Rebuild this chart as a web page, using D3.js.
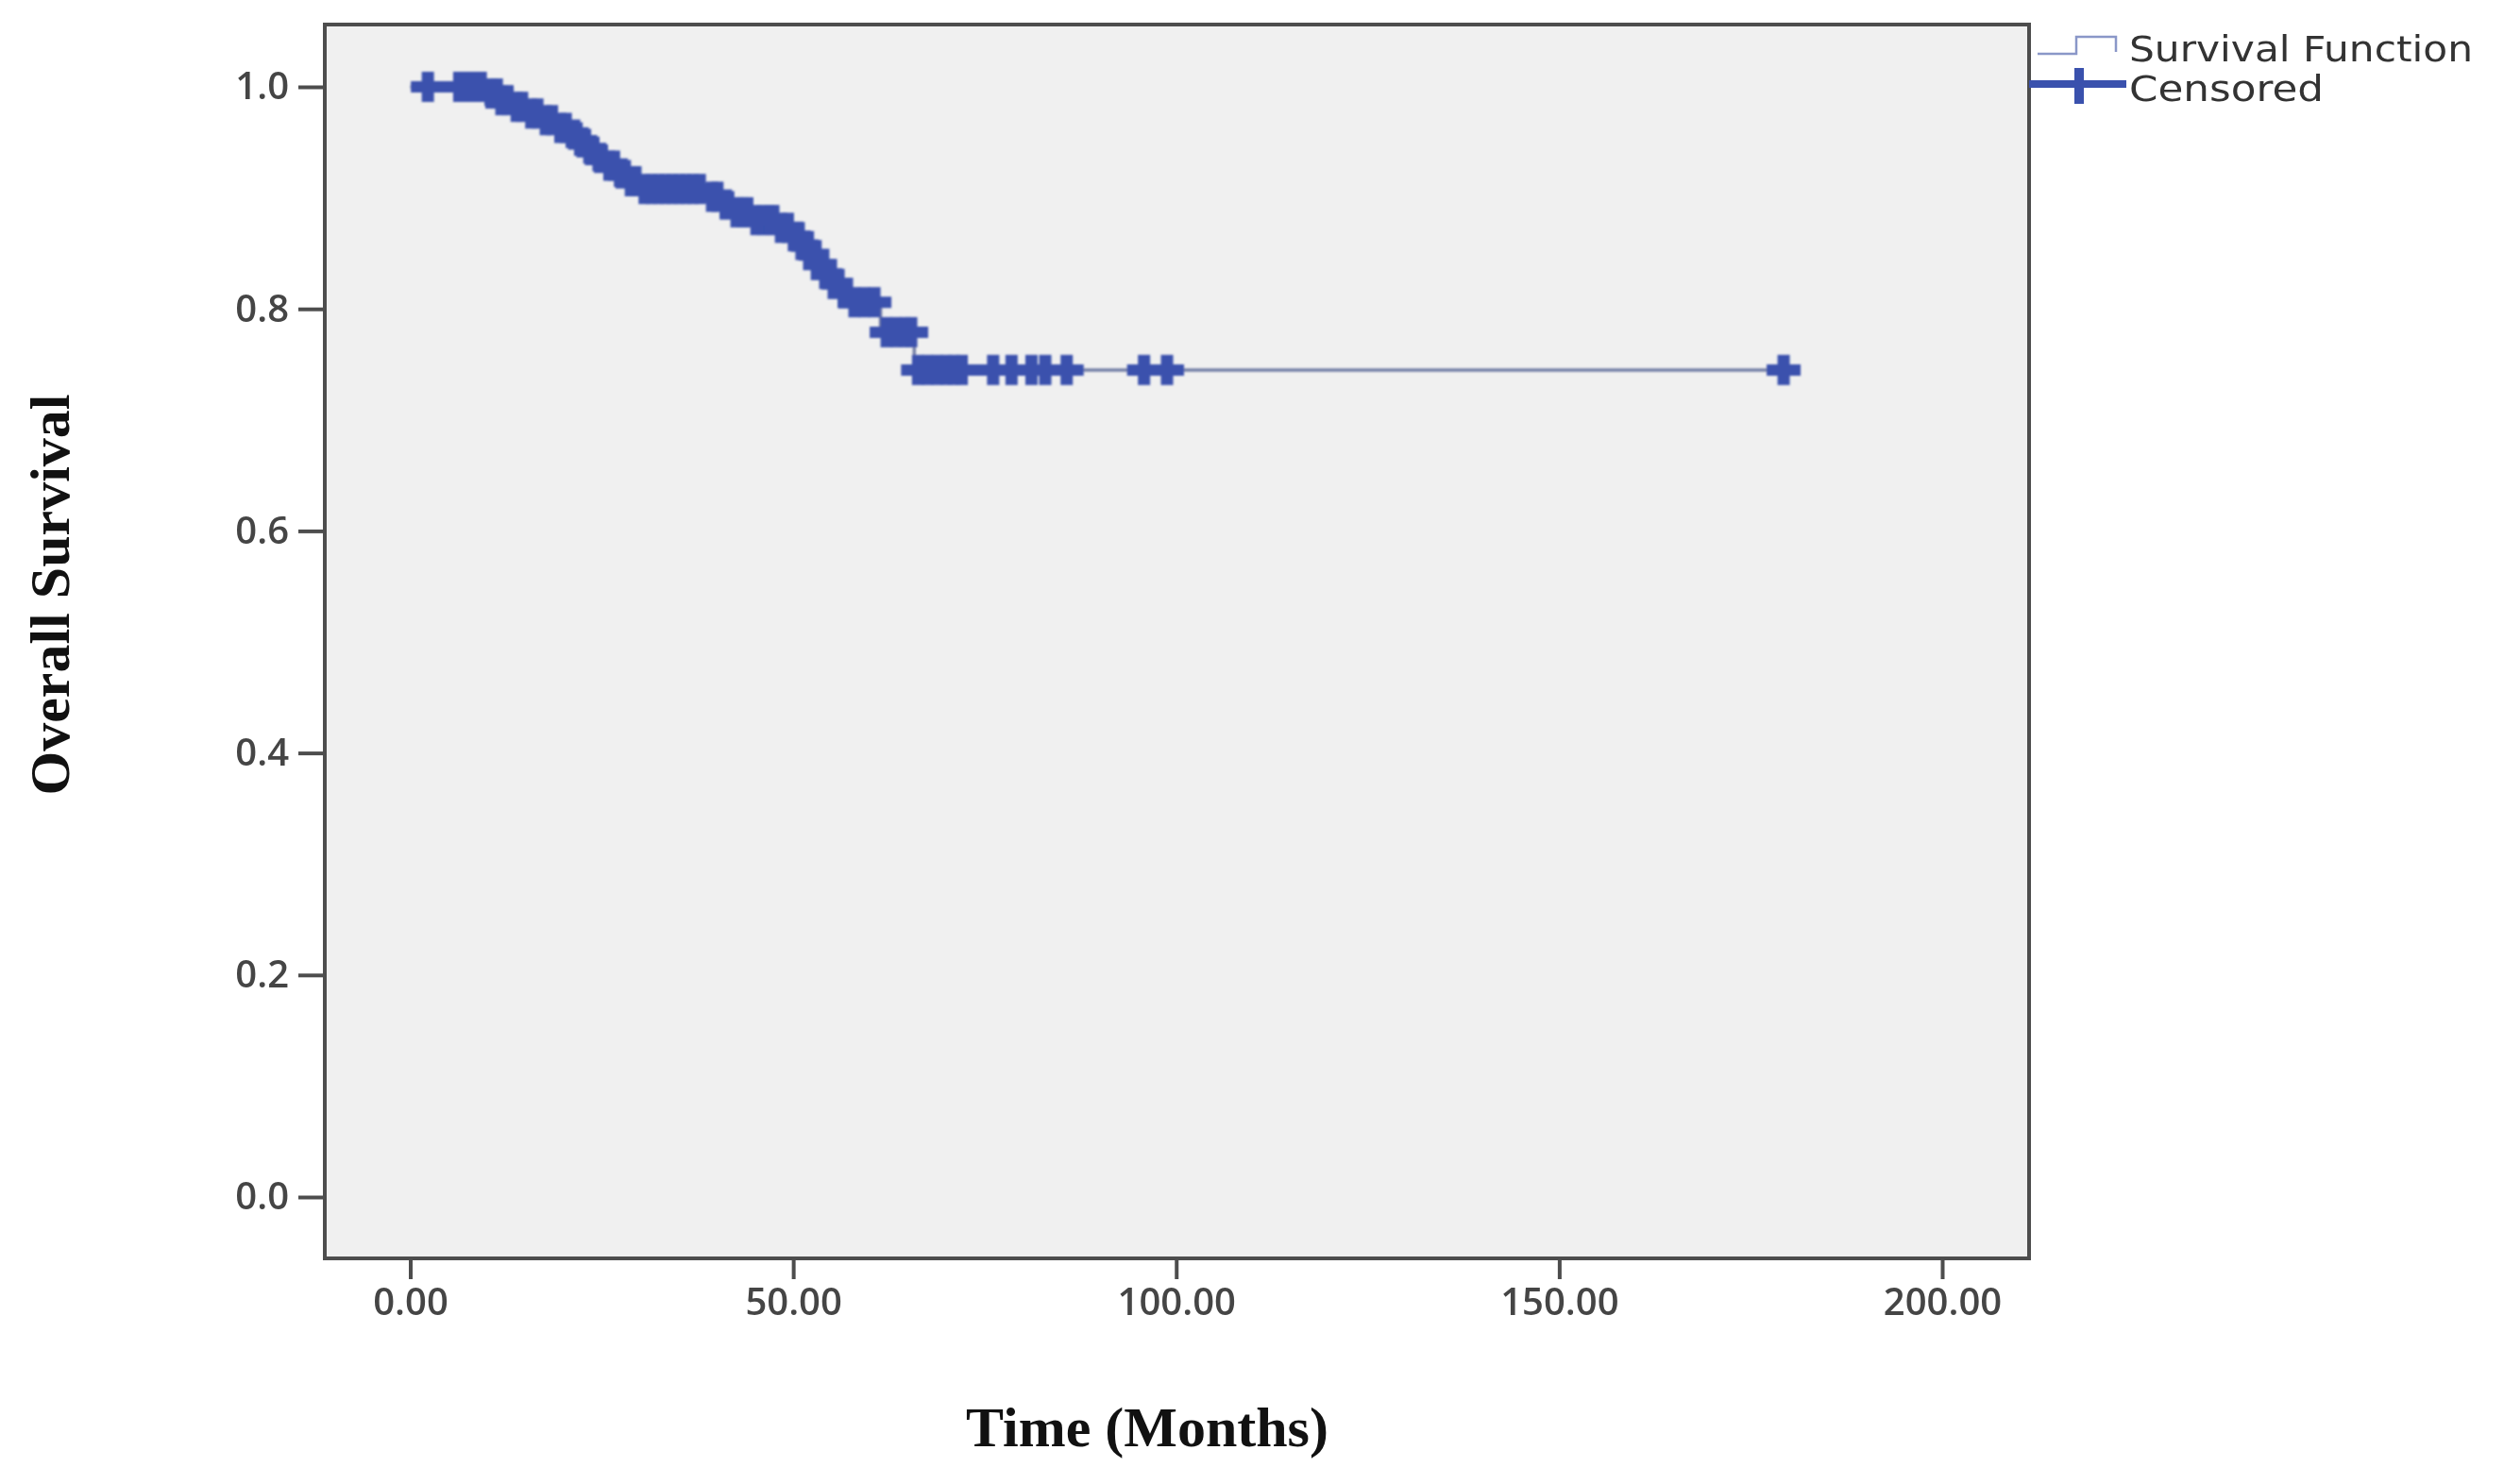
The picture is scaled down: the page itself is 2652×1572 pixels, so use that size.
<!DOCTYPE html>
<html>
<head>
<meta charset="utf-8">
<script src="https://cdn.jsdelivr.net/npm/d3@7/dist/d3.min.js"></script>
<style>
  html, body { margin: 0; padding: 0; background: #ffffff; }
  svg { display: block; }
</style>
</head>
<body>
<svg id="chart" width="2652" height="1572"></svg>
<script>
// ---- Data ----
const eventTimes = [10.0, 11.6, 13.4, 15.4, 17.4, 19.2, 20.8, 22.0, 23.2, 24.4, 25.6, 27.2, 28.5, 29.8,
                    38.8, 40.5, 42.0, 44.5, 47.8, 50.0, 51.0, 52.0, 53.0, 54.0, 55.0, 56.2, 57.2, 61.4, 65.8];
const eventSurv  = [0.994, 0.988, 0.982, 0.976, 0.970, 0.963, 0.957, 0.950, 0.943, 0.936, 0.929, 0.922, 0.915, 0.908,
                    0.901, 0.894, 0.887, 0.880, 0.873, 0.865, 0.857, 0.849, 0.840, 0.831, 0.823, 0.814, 0.806, 0.779, 0.745];
const censorTimes = [2.3, 6.4, 7.3, 8.3, 9.2,
  10.6, 11.3, 11.9, 12.7, 13.9, 14.6, 15.8, 16.6, 17.7, 18.5, 19.6, 20.3, 21.4, 22.5, 23.6, 24.8, 26.0, 26.6, 27.6,
  28.8, 29.4, 30.6, 31.5, 32.4, 33.3, 34.2, 35.1, 36.0, 36.9, 37.8, 39.4, 40.1, 41.2, 42.6, 43.4, 44.0, 45.2,
  46.0, 46.9, 47.4, 48.4, 49.3, 50.5, 51.5, 52.5, 53.5, 54.5, 55.6, 56.7, 58.0, 59.3, 60.6, 62.2, 63.4, 64.6, 65.4,
  66.3, 67.5, 68.8, 70.0, 71.0, 72.0, 76.1, 78.5, 81.1, 82.9, 85.7, 95.8, 98.8, 179.3];
const xTicks = [0, 50, 100, 150, 200];
const yTicks = [0, 0.2, 0.4, 0.6, 0.8, 1.0];
const legendLabels = ["Survival Function", "Censored"];
const xTitle = "Time (Months)";
const yTitle = "Overall Survival";

// ---- Layout ----
const frame = { left: 344, right: 2149, top: 26, bottom: 1333 };
const svg = d3.select("#chart");

const defs = svg.append("defs");
defs.append("filter").attr("id", "soft")
  .attr("x", "-5%").attr("y", "-5%").attr("width", "110%").attr("height", "110%")
  .append("feGaussianBlur").attr("stdDeviation", 1.2);

const x = d3.scaleLinear().domain([0, 200]).range([434.5, 2057]);
const y = d3.scaleLinear().domain([0, 1]).range([1268, 92]);

const markColor = "#3a51ad";
const lineColor = "#737ea6";
const axisColor = "#4d4d4d";
const labelColor = "#454545";

// plot background
svg.append("rect")
  .attr("x", frame.left).attr("y", frame.top)
  .attr("width", frame.right - frame.left).attr("height", frame.bottom - frame.top)
  .attr("fill", "#f0f0f0");

// survival step function
function survAt(t) {
  const i = d3.bisectRight(eventTimes, t);
  return i === 0 ? 1 : eventSurv[i - 1];
}
const lastTime = d3.max(censorTimes);
const stepPts = [[0, 1]].concat(eventTimes.map((t, i) => [t, eventSurv[i]]));
stepPts.push([lastTime, eventSurv[eventSurv.length - 1]]);

const plotG = svg.append("g").attr("filter", "url(#soft)");
plotG.append("path")
  .datum(stepPts)
  .attr("fill", "none")
  .attr("stroke", lineColor)
  .attr("stroke-width", 3.5)
  .attr("d", d3.line().x(d => x(d[0])).y(d => y(d[1])).curve(d3.curveStepAfter));

// censored marks (+)
const hx = 18, hy = 16;
const marks = plotG.selectAll("g.cens").data(censorTimes).join("g")
  .attr("class", "cens")
  .attr("transform", d => `translate(${x(d)},${y(survAt(d))})`);
marks.append("line").attr("x1", -hx).attr("x2", hx).attr("y1", 0).attr("y2", 0)
  .attr("stroke", markColor).attr("stroke-width", 12);
marks.append("line").attr("x1", 0).attr("x2", 0).attr("y1", -hy).attr("y2", hy)
  .attr("stroke", markColor).attr("stroke-width", 13);

// frame
svg.append("rect")
  .attr("x", frame.left).attr("y", frame.top)
  .attr("width", frame.right - frame.left).attr("height", frame.bottom - frame.top)
  .attr("fill", "none").attr("stroke", axisColor).attr("stroke-width", 4);

// axes
const yAxis = d3.axisLeft(y).tickValues(yTicks).tickFormat(d3.format(".1f")).tickSize(28).tickPadding(10);
const gy = svg.append("g").attr("transform", `translate(${frame.left},0)`).call(yAxis);
gy.select(".domain").remove();
gy.selectAll(".tick line").attr("stroke", axisColor).attr("stroke-width", 4);
gy.selectAll(".tick text")
  .attr("fill", labelColor)
  .style("font-family", "'Open Sans', sans-serif")
  .style("font-weight", "600")
  .style("font-size", "40px");

const xAxis = d3.axisBottom(x).tickValues(xTicks).tickFormat(d3.format(".2f")).tickSize(22).tickPadding(10);
const gx = svg.append("g").attr("transform", `translate(0,${frame.bottom})`).call(xAxis);
gx.select(".domain").remove();
gx.selectAll(".tick line").attr("stroke", axisColor).attr("stroke-width", 4);
gx.selectAll(".tick text")
  .attr("fill", labelColor)
  .style("font-family", "'Open Sans', sans-serif")
  .style("font-weight", "600")
  .style("font-size", "40px");

// axis titles
svg.append("text")
  .attr("x", 1215).attr("y", 1532)
  .attr("text-anchor", "middle")
  .style("font-family", "'Liberation Serif', 'Times New Roman', serif")
  .style("font-weight", "bold")
  .style("font-size", "60px")
  .attr("fill", "#111")
  .text(xTitle);

svg.append("text")
  .attr("transform", "translate(73,630) rotate(-90)")
  .attr("text-anchor", "middle")
  .style("font-family", "'Liberation Serif', 'Times New Roman', serif")
  .style("font-weight", "bold")
  .style("font-size", "60px")
  .attr("fill", "#111")
  .text(yTitle);

// legend
const lg = svg.append("g");
lg.append("path")
  .attr("d", "M2158,57 H2199 V39 H2241 V55")
  .attr("fill", "none").attr("stroke", "#8a97c8").attr("stroke-width", 2.5);
lg.append("line").attr("x1", 2149).attr("x2", 2252).attr("y1", 89).attr("y2", 89)
  .attr("stroke", markColor).attr("stroke-width", 8);
lg.append("line").attr("x1", 2202).attr("x2", 2202).attr("y1", 72).attr("y2", 110)
  .attr("stroke", markColor).attr("stroke-width", 10);

const legendY = [65, 107];
const legendW = [364, 206];
lg.selectAll("text.leg").data(legendLabels).join("text")
  .attr("class", "leg")
  .attr("x", 2255)
  .attr("y", (d, i) => legendY[i])
  .attr("textLength", (d, i) => legendW[i])
  .attr("lengthAdjust", "spacingAndGlyphs")
  .style("font-family", "'DejaVu Sans', Verdana, sans-serif")
  .style("font-size", "37px")
  .attr("fill", "#333")
  .text(d => d);
</script>
</body>
</html>
